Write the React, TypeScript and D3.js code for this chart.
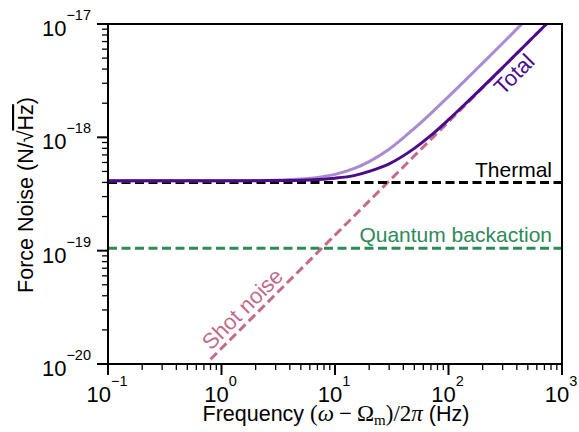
import React from 'react';
import * as d3 from 'd3';

// ---- data ----
const freqs = [0.1, 0.3, 1, 2, 3, 5, 7, 10, 15, 20, 30, 50, 70, 100, 150, 200, 300, 500, 700, 1000];
const totalNoise = [4.13e-19, 4.13e-19, 4.14e-19, 4.14e-19, 4.16e-19, 4.19e-19, 4.25e-19, 4.36e-19, 4.62e-19, 5.01e-19, 5.84e-19, 7.99e-19, 1.04e-18, 1.43e-18, 2.10e-18, 2.77e-18, 4.13e-18, 6.86e-18, 9.6e-18, 1.37e-17];
const totalNoiseLight = [4.13e-19, 4.13e-19, 4.14e-19, 4.16e-19, 4.19e-19, 4.29e-19, 4.43e-19, 4.71e-19, 5.34e-19, 6.11e-19, 7.85e-19, 1.20e-18, 1.63e-18, 2.29e-18, 3.40e-18, 4.52e-18, 6.76e-18, 1.13e-17, 1.58e-17, 2.25e-17];
const shotFreqs = [0.8, 1000];
const shotNoise = [1.1e-20, 1.37e-17];
const thermalFreqs = [0.1, 1000];
const thermalNoise = [4.0e-19, 4.0e-19];
const backactionFreqs = [0.1, 1000];
const backactionNoise = [1.05e-19, 1.05e-19];
const xTickExps = [-1, 0, 1, 2, 3];
const yTickExps = [-20, -19, -18, -17];

const W = 579, H = 432;
const L = 108, R = 562, T = 24, B = 364;
const SANS = '"Liberation Sans", Arial, sans-serif';
const SERIF = '"Liberation Serif", "Times New Roman", serif';

const C_DARK = '#4c0a8c';
const C_LIGHT = '#a98bd2';
const C_PINK = '#c26b8d';
const C_GREEN = '#2e8a57';

const pair = (xs: number[], ys: number[]) => xs.map((v, i) => [v, ys[i]] as [number, number]);
const sup = (e: number) => (e < 0 ? '\u2212' + Math.abs(e) : String(e));

export default function App() {
  const x = d3.scaleLog().domain([0.1, 1000]).range([L, R]);
  const y = d3.scaleLog().domain([1e-20, 1e-17]).range([B, T]);
  const curve = d3.line<[number, number]>().x(d => x(d[0])).y(d => y(d[1])).curve(d3.curveMonotoneX);
  const straight = d3.line<[number, number]>().x(d => x(d[0])).y(d => y(d[1]));

  const xMinor = x.ticks().filter(v => Math.abs(Math.log10(v) - Math.round(Math.log10(v))) > 1e-6);
  const yMinor = y.ticks().filter(v => Math.abs(Math.log10(v) - Math.round(Math.log10(v))) > 1e-6);

  return (
    <svg width={W} height={H} style={{ position: 'absolute', left: 0, top: 0, background: '#fff' }} fontFamily={SANS}>
      <defs>
        <clipPath id="plot"><rect x={L} y={T} width={R - L} height={B - T} /></clipPath>
      </defs>
      <rect x={0} y={0} width={W} height={H} fill="#fff" />
      <g clipPath="url(#plot)" fill="none" strokeWidth={3}>
        <path d={straight(pair(shotFreqs, shotNoise)) || ''} stroke={C_PINK} strokeDasharray="9,4.5" />
        <path d={straight(pair(thermalFreqs, thermalNoise)) || ''} stroke="#000" strokeDasharray="9,4.5" />
        <path d={straight(pair(backactionFreqs, backactionNoise)) || ''} stroke={C_GREEN} strokeDasharray="9,4.5" />
        <path d={curve(pair(freqs, totalNoiseLight)) || ''} stroke={C_LIGHT} />
        <path d={curve(pair(freqs, totalNoise)) || ''} stroke={C_DARK} />
      </g>
      {/* spines */}
      <rect x={L} y={T} width={R - L} height={B - T} fill="none" stroke="#000" strokeWidth={2} />
      {/* x ticks */}
      {xTickExps.map(e => (
        <g key={'xt' + e}>
          <line x1={x(10 ** e)} x2={x(10 ** e)} y1={B} y2={B + 11} stroke="#000" strokeWidth={2} />
          <text x={x(10 ** e) - 1} y={402} textAnchor="middle" fontSize={22}>
            10<tspan fontSize={14.5} dy={-16}>{sup(e)}</tspan>
          </text>
        </g>
      ))}
      {xMinor.map((v, i) => (
        <line key={'xm' + i} x1={x(v)} x2={x(v)} y1={B} y2={B + 6} stroke="#000" strokeWidth={1.3} />
      ))}
      {/* y ticks */}
      {yTickExps.map(e => (
        <g key={'yt' + e}>
          <line x1={L - 11} x2={L} y1={y(10 ** e)} y2={y(10 ** e)} stroke="#000" strokeWidth={2} />
          <text x={91} y={y(10 ** e) + 12} textAnchor="end" fontSize={22}>
            10<tspan fontSize={14.5} dy={-16}>{sup(e)}</tspan>
          </text>
        </g>
      ))}
      {yMinor.map((v, i) => (
        <line key={'ym' + i} x1={L - 6} x2={L} y1={y(v)} y2={y(v)} stroke="#000" strokeWidth={1.3} />
      ))}
      {/* axis labels */}
      <text x={336} y={421} textAnchor="middle" fontSize={21.5}>
        Frequency{' '}
        <tspan fontFamily={SERIF} fontSize={23}>(</tspan>
        <tspan fontFamily={SERIF} fontSize={23} fontStyle="italic">ω</tspan>
        <tspan fontFamily={SERIF} fontSize={23} dx={5}>{'\u2212'}</tspan>
        <tspan fontFamily={SERIF} fontSize={23} dx={5}>{'\u03A9'}</tspan>
        <tspan fontFamily={SERIF} fontSize={15} dy={4}>m</tspan>
        <tspan fontFamily={SERIF} fontSize={23} dy={-4}>)/2</tspan>
        <tspan fontFamily={SERIF} fontSize={23} fontStyle="italic">π</tspan>
        <tspan>{' (Hz)'}</tspan>
      </text>
      <text transform={`translate(33,195) rotate(-90)`} textAnchor="middle" fontSize={21.5}>
        Force Noise (N/√<tspan textDecoration="overline">Hz</tspan>)
      </text>
      {/* annotations */}
      <text x={552} y={177} textAnchor="end" fontSize={21} fill="#000">Thermal</text>
      <text x={552} y={242} textAnchor="end" fontSize={21} fill={C_GREEN}>Quantum backaction</text>
      <text transform="translate(211,351) rotate(-45)" fontSize={22} fill={C_PINK}>Shot noise</text>
      <text transform="translate(503,96) rotate(-45)" fontSize={22} fill={C_DARK}>Total</text>
    </svg>
  );
}
